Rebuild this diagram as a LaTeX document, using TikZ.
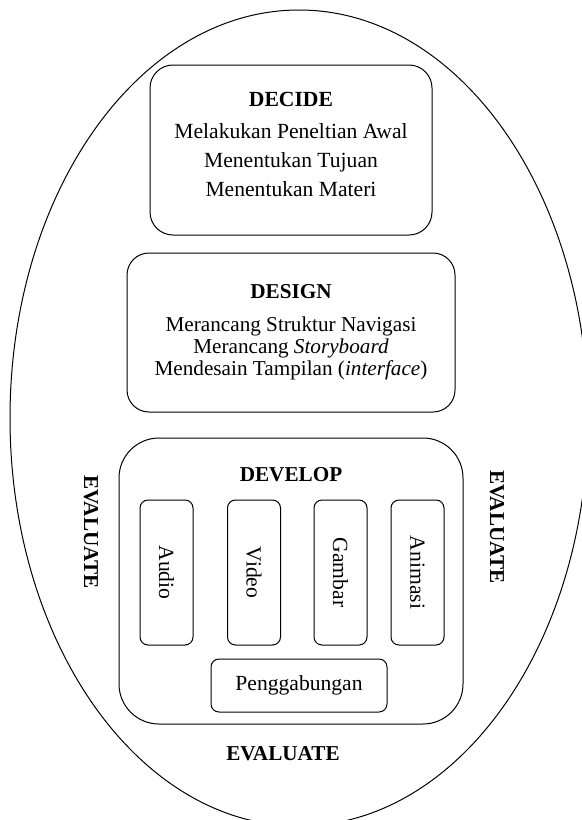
\documentclass[tikz,border=0pt]{standalone}
\usepackage{fontspec}
\setmainfont{Liberation Serif}

\tikzset{
  phasebox/.style={draw, rounded corners=11pt, inner sep=0pt, align=center},
  mediabox/.style={draw, rounded corners=4pt, rotate=-90, inner sep=0pt,
    minimum width=72.5pt, minimum height=26.5pt},
  evaltext/.style={font=\fontsize{10.6}{12}\selectfont\bfseries}
}

\begin{document}
\begin{tikzpicture}[x=0.5pt, y=-0.5pt, line width=0.5pt, font=\fontsize{10.8}{14.5}\selectfont]
      \useasboundingbox (0,0) rectangle (582,820);
      \begin{scope}
        \clip (0,0) rectangle (582,820);
        \draw (299,418) ellipse [x radius=144.5pt, y radius=204pt];
      \end{scope}

      % decide
      \node[phasebox, rounded corners=11.5pt, minimum width=141pt, minimum height=85pt] (decide) at (291,150) {};
      \node[align=center, inner sep=0pt] (decidetext) at (291,144)
        {\textbf{DECIDE}\\[1.5pt] Melakukan Peneltian Awal\\ Menentukan Tujuan\\ Menentukan Materi};

      % design
      \node[phasebox, minimum width=164pt, minimum height=79.5pt, font=\fontsize{10.6}{11}\selectfont] (design) at (291,332.5)
        {\textbf{DESIGN}\\[5.5pt] Merancang Struktur Navigasi\\ Merancang \textit{Storyboard}\\ Mendesain Tampilan (\textit{interface})};

      % develop
      \node[phasebox, rounded corners=20pt, minimum width=172pt, minimum height=143pt] (develop) at (291,581) {};
      \node[font=\fontsize{10.6}{12}\selectfont\bfseries] (developlabel) at (291,475) {DEVELOP};
      \foreach \name/\xpos in {Audio/166.5, Video/254, Gambar/340.5, Animasi/417.5} {
        \node[mediabox] (\name) at (\xpos,572.5) {\name};
      }
      \node[draw, rounded corners=4pt, inner sep=0pt, minimum width=88pt, minimum height=26.5pt] (gabung) at (299,685.5) {Penggabungan};

      % evaluate
      \node[evaltext, rotate=-90] (evalleft) at (91,532) {EVALUATE};
      \node[evaltext, rotate=-90] (evalright) at (497,527) {EVALUATE};
      \node[evaltext] (evalbottom) at (283,754) {EVALUATE};
\end{tikzpicture}
\end{document}
